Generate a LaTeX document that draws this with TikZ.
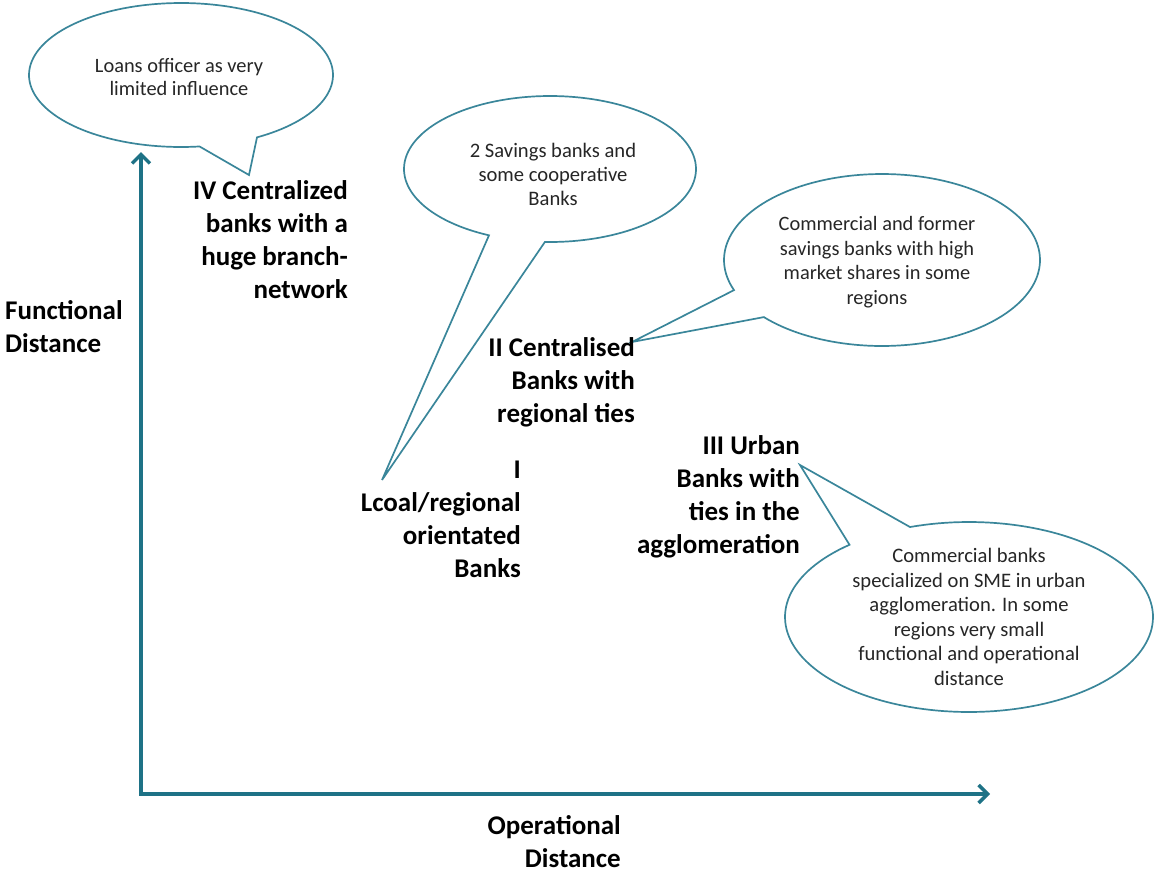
\documentclass[tikz,border=0pt]{standalone}
\usepackage{fontspec}
\setmainfont{Carlito}
\usetikzlibrary{arrows.meta}
\definecolor{calloutcol}{RGB}{58,134,154}
\definecolor{axiscol}{RGB}{30,114,134}
\definecolor{txtcol}{RGB}{38,38,38}
\begin{document}
\begin{tikzpicture}[x=1pt,y=-1pt,
  callout/.style={draw=calloutcol, line width=1.7pt, fill=white, line join=miter},
  ctext/.style={text=txtcol, align=center, inner sep=0pt, font=\fontsize{20.6}{24.5}\selectfont},
  blabel/.style={align=right, anchor=east, inner sep=0pt, font=\bfseries\fontsize{27}{33}\selectfont},
  axisline/.style={draw=axiscol, line width=3.5pt, line join=miter}]
\useasboundingbox (0,0) rectangle (1156,873);

% callout 1
\coordinate (tip1) at (249,175);
\draw[callout] plot[domain=83:420, samples=150] ({181+152*cos(\x)},{75+72*sin(\x)}) -- (tip1) -- cycle;
\node[ctext, font=\fontsize{20.4}{23.5}\selectfont] (c1) at (179,77) {Loans officer as very\\limited influence};

% callout 2
\coordinate (tip2) at (382,480);
\draw[callout] plot[domain=114.7:452, samples=150] ({550+146*cos(\x)},{169+73*sin(\x)}) -- (tip2) -- cycle;
\node[ctext, font=\fontsize{20.6}{24}\selectfont] (c2) at (553,174) {2 Savings banks and\\some cooperative\\Banks};

% callout 3
\coordinate (tip3) at (632,342);
\draw[callout] plot[domain=159.5:498.4, samples=150] ({882+158*cos(\x)},{260+86*sin(\x)}) -- (tip3) -- cycle;
\node[ctext, font=\fontsize{20.4}{24.5}\selectfont] (c3) at (877,262) {Commercial and former\\savings banks with high\\market shares in some\\regions};

% callout 4
\coordinate (tip4) at (800,465);
\draw[callout] plot[domain=251.3:589.5, samples=150] ({969+184*cos(\x)},{617+95*sin(\x)}) -- (tip4) -- cycle;
\node[ctext] (c4) at (969,617) {Commercial banks\\specialized on SME in urban\\agglomeration. In some\\regions very small\\functional and operational\\distance};

% axes
\coordinate (ytip) at (141,152);
\coordinate (xtip) at (990,794);
\draw[axisline, {Straight Barb[length=9pt,width=18pt]}-{Straight Barb[length=9pt,width=18pt]}] (ytip) |- (xtip);

% labels
\node[blabel] (iv) at (348,240) {IV Centralized\\banks with a\\huge branch-\\network};
\node[blabel] (ii) at (635,382) {II Centralised\\Banks with\\regional ties};
\node[blabel] (i) at (521,519) {I\\Lcoal/regional\\orientated\\Banks};
\node[blabel] (iii) at (800,497) {III Urban\\Banks with\\ties in the\\agglomeration};
\node[blabel, align=left, anchor=west] (fd) at (5,327) {Functional\\Distance};
\node[blabel] (od) at (621,842) {Operational\\Distance};
\end{tikzpicture}
\end{document}
